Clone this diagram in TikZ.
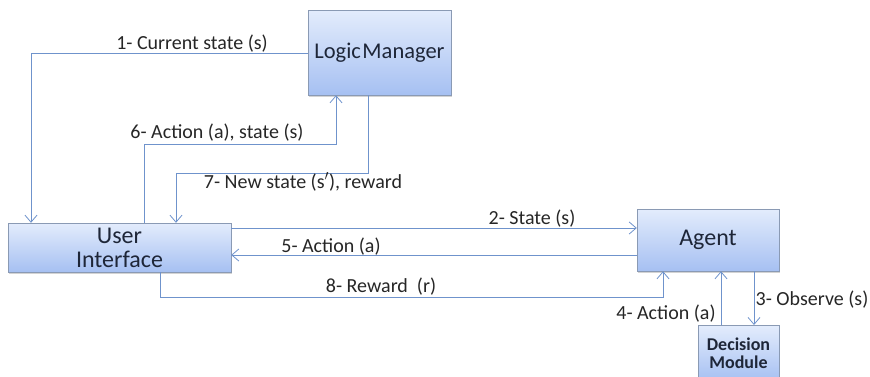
\documentclass[tikz,border=0pt]{standalone}
\usepackage{fontspec}
\setmainfont{Carlito}
\usepackage{xcolor}
\usepackage{tikz}
\usetikzlibrary{positioning,arrows.meta,shadows}

\definecolor{linkblue}{HTML}{6F93CC}
\definecolor{boxtop}{HTML}{E3ECFC}
\definecolor{boxbot}{HTML}{A6C0F2}
\definecolor{boxline}{HTML}{8A9AB4}
\definecolor{boxtext}{HTML}{1E2638}

\begin{document}
\begin{tikzpicture}
    [
      x=1pt, y=-1pt,
      Box/.style={rectangle, draw=boxline, top color=boxtop, bottom color=boxbot, thin,
                  drop shadow={shadow xshift=1.2pt, shadow yshift=-1.5pt, opacity=0.35},
                  text=boxtext, align=center, inner sep=0pt},
      Link/.style={draw=linkblue, line width=0.9pt, -{Straight Barb[length=7pt, width=12pt, line width=0.8pt]}},
      Label/.style={font=\fontsize{20}{22}\selectfont, text=black!85, inner sep=1pt},
    ]
    \useasboundingbox (0, 0) rectangle (870, 376);

    % Nodes
    \node[Box, minimum width=143, minimum height=85, font=\fontsize{22.5}{26}\selectfont] (logic) at (379.5, 52.5) {Logic\hspace{1.5pt}Manager};
    \node[Box, minimum width=223, minimum height=49, font=\fontsize{24}{24}\selectfont] (ui) at (119.5, 247.5) {User\\Interface};
    \node[Box, minimum width=142, minimum height=62, font=\fontsize{24}{26}\selectfont] (agent) at (708, 240) {Agent};
    \node[Box, minimum width=81, minimum height=56, font=\bfseries\fontsize{18}{18}\selectfont, anchor=north] (decision) at (738.5, 325) {Decision\\Module};

    % Corner points
    \coordinate (c1) at (31, 53);
    \coordinate (c6a) at (144, 144);
    \coordinate (c6b) at (336, 144);
    \coordinate (c7a) at (368, 173);
    \coordinate (c7b) at (176, 173);
    \coordinate (c8a) at (160, 297);
    \coordinate (c8b) at (663, 297);

    % Lines
    \path[Link] (logic.west |- c1) -- (c1) -- (c1 |- ui.north);
    \path[Link] (ui.north -| c6a) -- (c6a) -- (c6b) -- (c6b |- logic.south);
    \path[Link] (logic.south -| c7a) -- (c7a) -- (c7b) -- (c7b |- ui.north);
    \path[Link] (ui.east |- 0, 228) -- (agent.west |- 0, 228);
    \path[Link] (agent.west |- 0, 255) -- (ui.east |- 0, 255);
    \path[Link] (ui.south -| c8a) -- (c8a) -- (c8b) -- (c8b |- agent.south);
    \path[Link] (decision.north -| 721, 0) -- (agent.south -| 721, 0);
    \path[Link] (agent.south -| 754, 0) -- (decision.north -| 754, 0);

    % Labels
    \node[Label] (l1) at (192, 44) {1- Current state (s)};
    \node[Label] (l2) at (532, 219) {2- State (s)};
    \node[Label] (l3) at (812, 300) {3- Observe (s)};
    \node[Label] (l4) at (666, 314) {4- Action (a)};
    \node[Label] (l5) at (331, 247) {5- Action (a)};
    \node[Label] (l6) at (217, 133) {6- Action (a), state (s)};
    \node[Label] (l7) at (303, 182) {7- New state (s$'$), reward};
    \node[Label] (l8) at (381, 287) {8- Reward\ \ (r)};
\end{tikzpicture}
\end{document}
